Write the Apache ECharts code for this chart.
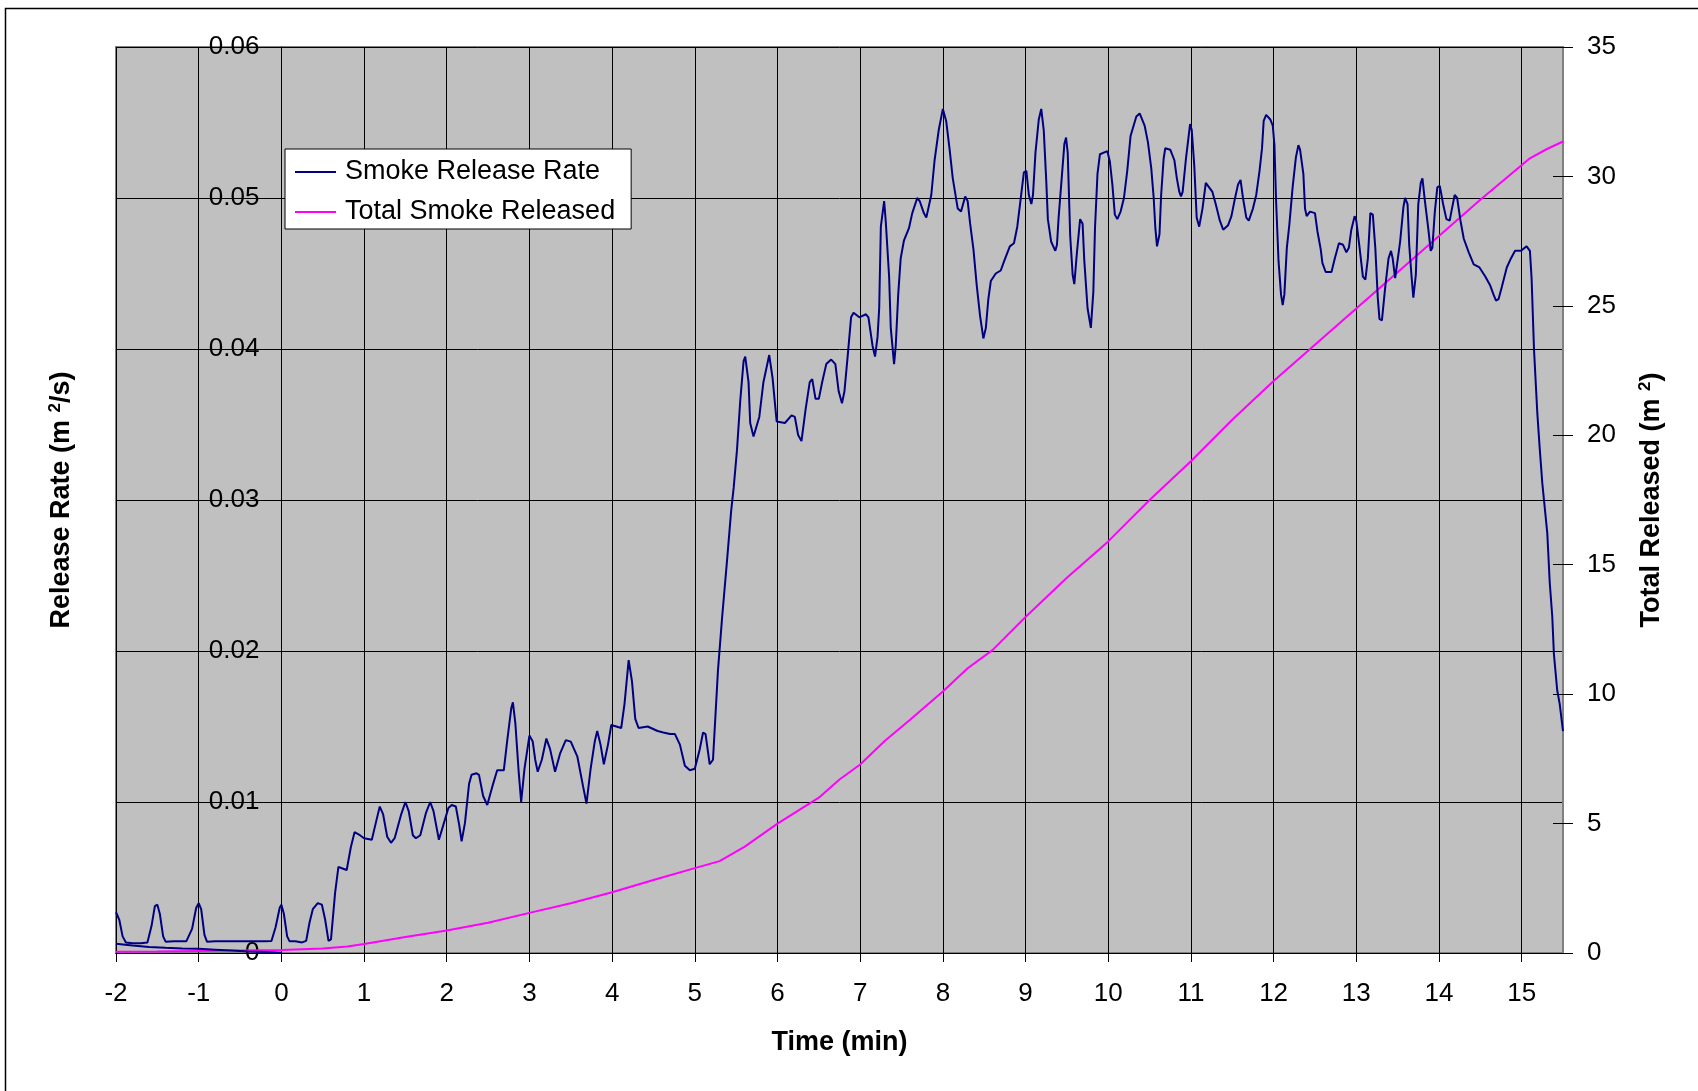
<!DOCTYPE html>
<html>
<head>
<meta charset="utf-8">
<script src="https://cdn.jsdelivr.net/npm/echarts@6/dist/echarts.min.js"></script>
<style>
html,body{margin:0;padding:0;background:#fff;}
#chart{width:1698px;height:1091px;}
</style>
</head>
<body>
<div id="chart"></div>
<script>
// ---- data ----
const xTicks = [-2,-1,0,1,2,3,4,5,6,7,8,9,10,11,12,13,14,15];
const leftTicks = [0,0.01,0.02,0.03,0.04,0.05,0.06];
const rightTicks = [0,5,10,15,20,25,30,35];

const rateTime = [
-2,-1.96,-1.92,-1.88,-1.8,-1.7,-1.62,-1.57,-1.53,-1.5,-1.47,-1.43,-1.4,-1.3,-1.15,-1.08,-1.03,-1,-0.97,-0.93,-0.9,-0.8,-0.6,-0.4,-0.2,-0.12,-0.07,-0.02,0,0.03,0.07,0.1,0.17,0.25,0.3,0.34,0.38,0.44,0.49,0.53,0.57,0.6,0.65,0.69,0.74,0.79,0.84,0.885,0.95,1,1.094,1.15,1.19,1.23,1.28,1.326,1.37,1.45,1.5,1.54,1.59,1.627,1.68,1.75,1.8,1.84,1.905,1.96,2.02,2.06,2.11,2.15,2.18,2.22,2.27,2.3,2.36,2.39,2.44,2.49,2.55,2.61,2.69,2.73,2.78,2.8,2.83,2.87,2.9,2.94,3,3.04,3.07,3.1,3.15,3.205,3.25,3.31,3.37,3.44,3.5,3.58,3.65,3.69,3.74,3.79,3.82,3.86,3.9,3.95,3.99,4.05,4.11,4.15,4.2,4.24,4.28,4.32,4.43,4.55,4.62,4.7,4.76,4.82,4.88,4.94,5,5.06,5.1,5.13,5.18,5.22,5.28,5.33,5.39,5.44,5.47,5.51,5.55,5.59,5.61,5.65,5.67,5.71,5.78,5.83,5.9,5.94,5.99,6.09,6.17,6.21,6.25,6.29,6.34,6.39,6.42,6.46,6.5,6.54,6.59,6.65,6.7,6.74,6.78,6.81,6.85,6.89,6.92,6.99,7.07,7.1,7.15,7.18,7.21,7.23,7.25,7.29,7.31,7.35,7.37,7.41,7.43,7.46,7.49,7.53,7.59,7.63,7.69,7.72,7.77,7.8,7.86,7.9,7.95,8,8.04,8.08,8.12,8.18,8.22,8.27,8.3,8.33,8.37,8.41,8.45,8.49,8.52,8.55,8.58,8.64,8.7,8.74,8.81,8.86,8.9,8.94,8.98,9.01,9.04,9.07,9.09,9.12,9.16,9.19,9.22,9.25,9.27,9.31,9.36,9.38,9.4,9.44,9.47,9.49,9.51,9.54,9.57,9.59,9.62,9.66,9.69,9.71,9.75,9.79,9.82,9.84,9.87,9.9,9.99,10.02,10.05,10.08,10.11,10.15,10.19,10.23,10.27,10.34,10.38,10.44,10.48,10.52,10.55,10.57,10.59,10.62,10.64,10.67,10.69,10.75,10.8,10.83,10.86,10.88,10.9,10.94,10.99,11.01,11.04,11.07,11.1,11.14,11.18,11.2,11.26,11.3,11.35,11.39,11.45,11.49,11.53,11.57,11.6,11.63,11.67,11.7,11.75,11.79,11.83,11.86,11.88,11.91,11.96,11.99,12.01,12.03,12.06,12.09,12.11,12.13,12.16,12.19,12.23,12.27,12.3,12.32,12.36,12.38,12.4,12.44,12.5,12.53,12.57,12.59,12.63,12.7,12.74,12.79,12.84,12.88,12.91,12.94,12.98,13,13.04,13.08,13.11,13.14,13.17,13.2,13.23,13.26,13.28,13.31,13.35,13.39,13.42,13.44,13.47,13.49,13.53,13.57,13.59,13.62,13.64,13.67,13.69,13.72,13.75,13.78,13.8,13.83,13.87,13.9,13.92,13.95,13.98,14.01,14.05,14.09,14.13,14.15,14.19,14.22,14.26,14.3,14.36,14.42,14.49,14.56,14.62,14.66,14.69,14.72,14.76,14.82,14.87,14.92,14.99,15.06,15.1,15.12,15.15,15.19,15.22,15.25,15.27,15.31,15.34,15.37,15.39,15.43,15.46,15.5
];
const rateValue = [
0.0027,0.0022,0.0011,0.0007,0.00065,0.00064,0.0007,0.0018,0.0031,0.0032,0.0026,0.0011,0.00075,0.00078,0.00077,0.0016,0.003,0.0033,0.0029,0.0012,0.00075,0.00078,0.00077,0.00077,0.00078,0.0008,0.0017,0.003,0.0032,0.0026,0.0011,0.00077,0.00078,0.0007,0.0008,0.002,0.0029,0.0033,0.0032,0.0022,0.0008,0.0009,0.004,0.0057,0.0056,0.0055,0.007,0.008,0.0078,0.0076,0.0075,0.0088,0.0097,0.0092,0.0077,0.0073,0.0076,0.0092,0.01,0.0094,0.0078,0.0076,0.0078,0.0093,0.01,0.0094,0.0075,0.0085,0.0096,0.0098,0.0097,0.0085,0.0074,0.0086,0.0112,0.0118,0.0119,0.0118,0.0104,0.0098,0.011,0.0121,0.0121,0.014,0.0162,0.0166,0.0152,0.012,0.01,0.0122,0.0144,0.014,0.0128,0.012,0.0128,0.0142,0.0135,0.012,0.0132,0.0141,0.014,0.013,0.011,0.0099,0.0122,0.014,0.0147,0.0138,0.0125,0.0138,0.0151,0.015,0.0149,0.0165,0.0194,0.018,0.0155,0.0149,0.015,0.0147,0.0146,0.0145,0.0145,0.0138,0.0124,0.0121,0.0122,0.0135,0.0146,0.0145,0.0125,0.0128,0.0187,0.0222,0.026,0.0293,0.0308,0.0333,0.0366,0.0392,0.0395,0.0378,0.0351,0.0342,0.0355,0.0378,0.0396,0.0381,0.0352,0.0351,0.0356,0.0355,0.0343,0.0339,0.036,0.0378,0.038,0.0367,0.0367,0.0378,0.039,0.0393,0.039,0.0372,0.0364,0.0372,0.0396,0.0421,0.0424,0.0421,0.0423,0.0421,0.0402,0.0395,0.0408,0.0427,0.0481,0.0498,0.0484,0.0448,0.0414,0.039,0.0402,0.0436,0.046,0.0472,0.048,0.049,0.05,0.0498,0.049,0.0487,0.0502,0.0525,0.0545,0.0559,0.0551,0.0533,0.0513,0.0493,0.0491,0.0501,0.0498,0.0483,0.0466,0.0442,0.0422,0.0407,0.0414,0.0433,0.0445,0.045,0.0452,0.0458,0.0468,0.047,0.0481,0.0499,0.0517,0.0518,0.0502,0.0496,0.0502,0.053,0.0552,0.0559,0.0545,0.0512,0.0486,0.0471,0.0465,0.0469,0.0487,0.0515,0.0536,0.054,0.053,0.0475,0.0449,0.0443,0.0463,0.0486,0.0483,0.0459,0.0427,0.0414,0.0438,0.048,0.0516,0.0529,0.0531,0.0524,0.0509,0.0489,0.0486,0.0491,0.05,0.0518,0.0541,0.0554,0.0556,0.0548,0.0537,0.052,0.05,0.048,0.0468,0.0476,0.0502,0.0526,0.0533,0.0532,0.0525,0.0513,0.0504,0.0501,0.0504,0.0526,0.0549,0.0545,0.0522,0.0487,0.0481,0.0493,0.051,0.051,0.0504,0.0496,0.0485,0.0479,0.0482,0.0488,0.0499,0.0509,0.0512,0.05,0.0487,0.0485,0.0493,0.0502,0.0518,0.0533,0.0551,0.0555,0.0552,0.0548,0.0535,0.0498,0.0458,0.0436,0.0429,0.0436,0.0467,0.0482,0.0507,0.0527,0.0535,0.0532,0.0516,0.0493,0.0488,0.0491,0.049,0.0478,0.0466,0.0457,0.0451,0.0451,0.046,0.047,0.0469,0.0464,0.0467,0.0479,0.0488,0.0485,0.0467,0.0448,0.0446,0.046,0.049,0.0489,0.0467,0.0434,0.042,0.0419,0.0441,0.046,0.0465,0.046,0.0447,0.0446,0.0471,0.0494,0.05,0.0496,0.0469,0.0447,0.0434,0.0449,0.0496,0.051,0.0513,0.0498,0.048,0.0465,0.0467,0.0491,0.0507,0.0508,0.0496,0.0486,0.0485,0.0491,0.0502,0.05,0.0485,0.0473,0.0464,0.0456,0.0454,0.0448,0.0442,0.0436,0.0432,0.0433,0.0441,0.0454,0.046,0.0465,0.0465,0.0468,0.0465,0.0447,0.0399,0.0357,0.0333,0.0311,0.03,0.0278,0.0245,0.0223,0.0198,0.0174,0.0165,0.0147
];

// second (baseline) trace of the release rate near zero, -2 to 0 min
const baseTime = [-2,-1.8,-1.6,-1.4,-1.2,-1,-0.8,-0.6,-0.4,-0.2,0];
const baseValue = [0.00062,0.0005,0.0004,0.00034,0.0003,0.00028,0.00022,0.00016,0.0001,0.00006,0.00002];

const totalTime = [-2,-1.5,-1,-0.5,0,0.5,0.8,1,1.5,2,2.5,3,3.5,4,4.5,5,5.3,5.6,6,6.5,6.75,7,7.3,7.6,8,8.3,8.6,9,9.5,10,10.5,11,11.5,12,12.5,13,13.5,14,14.5,14.8,15.1,15.3,15.5];
const totalValue = [0.05,0.06,0.08,0.1,0.12,0.17,0.25,0.35,0.62,0.87,1.17,1.55,1.92,2.35,2.82,3.28,3.55,4.1,5.0,6.0,6.7,7.28,8.2,9.0,10.1,11.0,11.7,12.98,14.5,15.9,17.5,19.0,20.6,22.1,23.5,24.9,26.3,27.7,29.1,29.9,30.7,31.05,31.35];

const FONT = '"Liberation Sans", Arial, sans-serif';
const NAVY = '#000080';
const MAGENTA = '#FF00FF';

const X_MIN = -2, X_MAX = 15.5;
const GRID_LEFT = 116, GRID_WIDTH = 1447;
// the left value axis crosses the time axis at time = 0
const leftAxisShift = -(0 - X_MIN) / (X_MAX - X_MIN) * GRID_WIDTH;

const pairs = (xs, ys) => xs.map((x, i) => [x, ys[i]]);

const chart = echarts.init(document.getElementById('chart'), null, {renderer: 'canvas'});

const titleRich = {
  t: {fontSize: 27, fontWeight: 'bold', fontFamily: FONT, color: '#000', lineHeight: 30},
  sup: {fontSize: 17, fontWeight: 'bold', fontFamily: FONT, color: '#000', lineHeight: 30, verticalAlign: 'top', padding: [0, 0, 10, 0]}
};

chart.setOption({
  animation: false,
  backgroundColor: '#fff',
  graphic: [{
    type: 'rect', silent: true, z: -10,
    shape: {x: 5.5, y: 8.5, width: 1800, height: 1200},
    style: {fill: 'none', stroke: '#000', lineWidth: 1.5}
  }],
  grid: {
    left: GRID_LEFT, top: 47, width: GRID_WIDTH, height: 906,
    containLabel: false, outerBoundsMode: 'none',
    show: true, backgroundColor: '#C0C0C0', borderColor: '#808080', borderWidth: 2
  },
  legend: {
    orient: 'vertical', left: 285, top: 149,
    padding: [8, 16, 2, 10], itemGap: 10, itemWidth: 41, itemHeight: 2,
    icon: 'rect',
    backgroundColor: '#fff', borderColor: '#000', borderWidth: 1,
    textStyle: {fontSize: 27, fontFamily: FONT, color: '#000', lineHeight: 30, padding: [0, 0, 0, 4]},
    data: ['Smoke Release Rate', 'Total Smoke Released']
  },
  xAxis: {
    type: 'value', min: X_MIN, max: X_MAX, interval: 1,
    name: 'Time (min)', nameLocation: 'middle', nameGap: 75,
    nameTextStyle: {fontSize: 27, fontWeight: 'bold', fontFamily: FONT, color: '#000', lineHeight: 30},
    axisLine: {show: true, onZero: false, lineStyle: {color: '#000', width: 1}},
    axisTick: {show: true, length: 9, lineStyle: {color: '#000', width: 1}},
    axisLabel: {
      fontSize: 26, fontFamily: FONT, color: '#000', margin: 28,
      showMaxLabel: false,
      formatter: v => xTicks.indexOf(v) >= 0 ? String(v) : ''
    },
    splitLine: {show: true, lineStyle: {color: '#000', width: 1}}
  },
  yAxis: [{
    type: 'value', min: 0, max: 0.06, interval: 0.01, position: 'left',
    offset: leftAxisShift,
    name: '{t|Release Rate (m }{sup|2}{t|/s)}', nameLocation: 'middle', nameRotate: 90, nameGap: 205,
    nameTextStyle: {rich: titleRich},
    axisLine: {show: true, onZero: false, lineStyle: {color: '#000', width: 1}},
    axisTick: {show: true, length: 9, lineStyle: {color: '#000', width: 1}},
    axisLabel: {
      fontSize: 26, fontFamily: FONT, color: '#000', margin: 22,
      formatter: v => leftTicks.indexOf(Math.round(v * 100) / 100) >= 0 ? String(Math.round(v * 100) / 100) : ''
    },
    splitLine: {show: true, lineStyle: {color: '#000', width: 1}}
  }, {
    type: 'value', min: 0, max: 35, interval: 5, position: 'right',
    name: '{t|Total Released (m }{sup|2}{t|)}', nameLocation: 'middle', nameRotate: 90, nameGap: 74,
    nameTextStyle: {rich: titleRich},
    axisLine: {show: true, onZero: false, lineStyle: {color: '#808080', width: 2}},
    axisTick: {show: true, length: 10, lineStyle: {color: '#000', width: 1}},
    axisLabel: {
      fontSize: 26, fontFamily: FONT, color: '#000', margin: 24,
      formatter: v => rightTicks.indexOf(v) >= 0 ? String(v) : ''
    },
    splitLine: {show: false}
  }, {
    type: 'value', min: 0, max: 35, interval: 5, position: 'right',
    axisLine: {show: false, onZero: false},
    axisTick: {show: true, inside: true, length: 10, lineStyle: {color: '#000', width: 1}},
    axisLabel: {show: false},
    splitLine: {show: false}
  }],
  series: [{
    name: 'Smoke Release Rate', type: 'line', xAxisIndex: 0, yAxisIndex: 0,
    data: pairs(rateTime, rateValue),
    showSymbol: false, symbol: 'none', color: NAVY,
    lineStyle: {color: NAVY, width: 2}, z: 3
  }, {
    name: 'Smoke Release Rate', type: 'line', xAxisIndex: 0, yAxisIndex: 0,
    data: pairs(baseTime, baseValue),
    showSymbol: false, symbol: 'none', color: NAVY,
    lineStyle: {color: NAVY, width: 2}, z: 3
  }, {
    name: 'Total Smoke Released', type: 'line', xAxisIndex: 0, yAxisIndex: 1,
    data: pairs(totalTime, totalValue),
    showSymbol: false, symbol: 'none', color: MAGENTA,
    lineStyle: {color: MAGENTA, width: 2}, z: 2
  }]
});
</script>
</body>
</html>
